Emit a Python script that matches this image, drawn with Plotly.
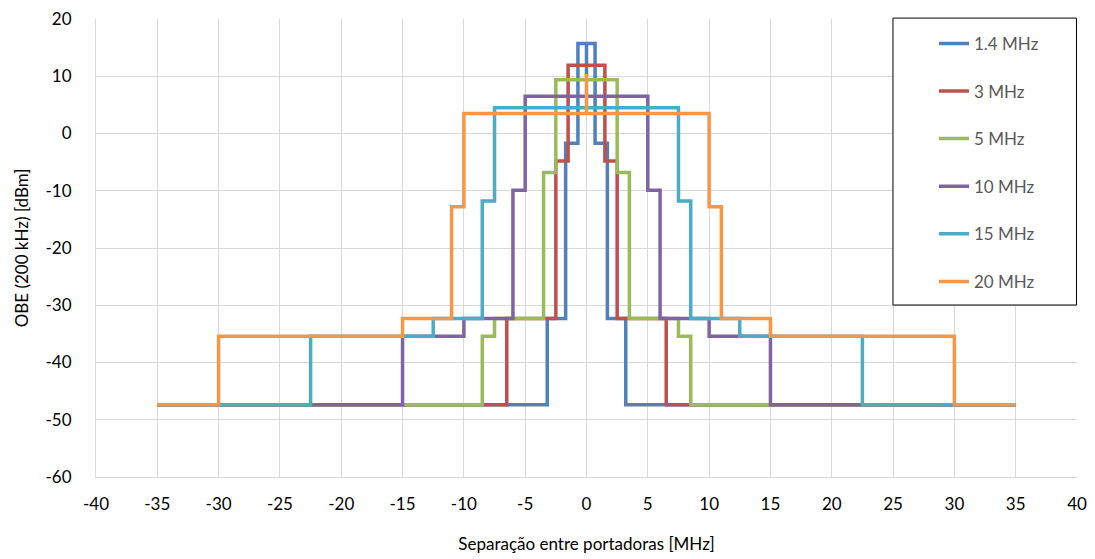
import plotly.graph_objects as go

# Channel bandwidths shown in the legend
bandas = ["1.4 MHz", "3 MHz", "5 MHz", "10 MHz", "15 MHz", "20 MHz"]
cores = ["#4F81BD", "#C0504D", "#9BBB59", "#8064A2", "#4BACC6", "#F79646"]

# Positive-side frequency breakpoints [MHz] of each mask (mirrored around 0)
limites_1_4 = [0.7, 1.7, 3.2, 35]
limites_3 = [1.5, 2.5, 6.5, 35]
limites_5 = [2.5, 3.5, 7.5, 8.5, 35]
limites_10 = [5, 6, 10, 15, 35]
limites_15 = [7.5, 8.5, 12.5, 22.5, 35]
limites_20 = [10, 11, 15, 30, 35]

# OBE level [dBm / 200 kHz] between consecutive breakpoints
niveis_1_4 = [15.7, -1.7, -32.3, -47.4]
niveis_3 = [11.9, -4.8, -32.3, -47.4]
niveis_5 = [9.4, -6.8, -32.3, -35.4, -47.4]
niveis_10 = [6.5, -9.9, -32.3, -35.4, -47.4]
niveis_15 = [4.5, -11.8, -32.3, -35.4, -47.4]
niveis_20 = [3.5, -12.8, -32.3, -35.4, -47.4]

# Extra point at 0 MHz present in some series (None = no point)
centro = [10.0, None, None, None, None, 10.4]

# Axis tick values and their labels (plain hyphen as minus sign)
ticks_x = list(range(-40, 41, 5))
rotulos_x = [str(v) for v in ticks_x]
ticks_y = list(range(-60, 21, 10))
rotulos_y = [str(v) for v in ticks_y]

limites = [limites_1_4, limites_3, limites_5, limites_10, limites_15, limites_20]
niveis = [niveis_1_4, niveis_3, niveis_5, niveis_10, niveis_15, niveis_20]


def mascara(lim, niv, pico):
    """Build the symmetric step outline of one emission mask."""
    xs, ys = [], []
    # left side, from the far edge inwards
    for i in range(len(lim) - 1, -1, -1):
        if i > 0:
            xs += [-lim[i], -lim[i - 1]]
            ys += [niv[i], niv[i]]
        else:
            xs += [-lim[i]]
            ys += [niv[i]]
    if pico is not None:
        xs += [0, 0, 0]
        ys += [niv[0], pico, niv[0]]
    # right side, from the centre outwards
    for i in range(len(lim)):
        if i > 0:
            xs += [lim[i - 1], lim[i]]
            ys += [niv[i], niv[i]]
        else:
            xs += [lim[i]]
            ys += [niv[i]]
    return xs, ys


fig = go.Figure()
for nome, cor, lim, niv, pico in zip(bandas, cores, limites, niveis, centro):
    xs, ys = mascara(lim, niv, pico)
    fig.add_trace(go.Scatter(
        x=xs, y=ys, mode="lines", name=nome, legendgroup=nome,
        line=dict(color=cor, width=3.5),
    ))

fonte = "Lato, 'Open Sans', sans-serif"

fig.update_layout(
    width=1095, height=559,
    margin=dict(l=96, r=18, t=19, b=82),
    paper_bgcolor="white", plot_bgcolor="white",
    font=dict(family=fonte, size=17, color="#000000"),
    showlegend=True,
    legend=dict(
        x=0.8542, y=0.985, xanchor="left", yanchor="top",
        bgcolor="rgba(0,0,0,0)", borderwidth=0,
        font=dict(family=fonte, size=17, color="#595959"),
        tracegroupgap=22.5, itemwidth=30,
    ),
    shapes=[dict(
        type="rect", xref="paper", yref="paper",
        x0=0.8124, x1=0.9995, y0=0.3755, y1=1.002,
        line=dict(color="#000000", width=1), fillcolor="white", layer="above",
    )],
)

fig.update_xaxes(
    range=[-40, 40], tickmode="array", tickvals=ticks_x, ticktext=rotulos_x,
    showgrid=True, gridcolor="#D9D9D9", gridwidth=1,
    zeroline=False, showline=True, linecolor="#D9D9D9",
    ticks="", ticklabelstandoff=12, automargin=False,
    title=dict(text="Separação entre portadoras [MHz]", standoff=24,
               font=dict(size=17)),
)
fig.update_yaxes(
    range=[-60, 20], tickmode="array", tickvals=ticks_y, ticktext=rotulos_y,
    showgrid=True, gridcolor="#D9D9D9", gridwidth=1,
    zeroline=False, showline=True, linecolor="#D9D9D9",
    ticks="", ticklabelstandoff=20, automargin=False,
    title=dict(text="OBE (200 kHz) [dBm]", standoff=12, font=dict(size=17)),
)

fig.write_html("out.html")
